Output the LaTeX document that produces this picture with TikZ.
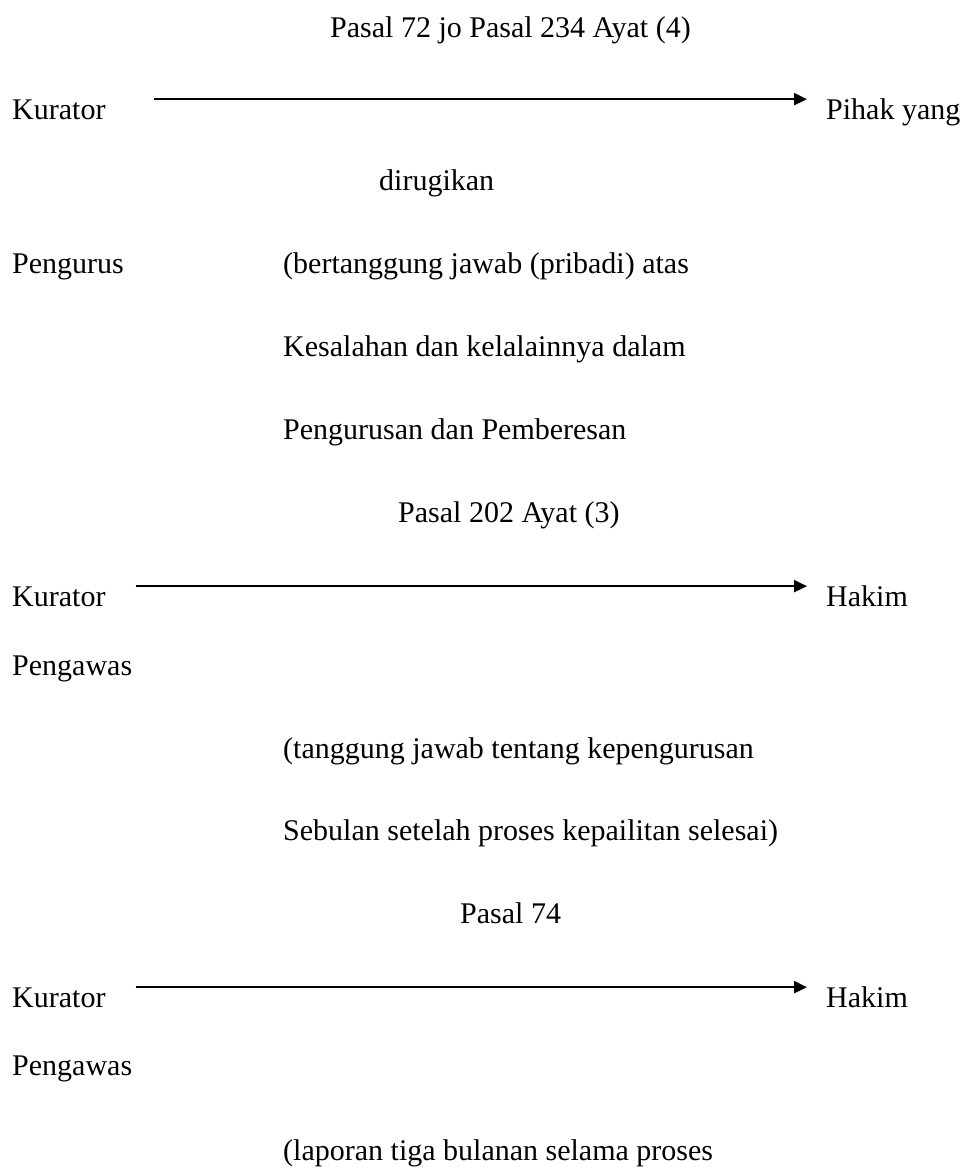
\documentclass[tikz,border=0pt]{standalone}
\usepackage{fontspec}
\setmainfont{Liberation Serif}
\usetikzlibrary{arrows.meta}
\begin{document}
\begin{tikzpicture}[x=1pt, y=-1pt]
    \tikzstyle{txt} = [inner sep=0pt, anchor=base west, font=\fontsize{30}{36}\selectfont]
    \tikzstyle{flow} = [-{Triangle[length=13pt, width=12pt]}, line width=2pt]

    \useasboundingbox (0,0) rectangle (964,1175);

    % Pasal 72 jo Pasal 234 Ayat (4)
    \node [txt] (pasal72) at (330,37) {Pasal 72 jo Pasal 234 Ayat (4)};
    \node [txt] (kur1) at (12,119) {Kurator};
    \node [txt] (pihak) at (826,119) {Pihak yang};
    \node [txt] (rugi) at (379,190) {dirugikan};
    \node [txt] (pengurus) at (12,273) {Pengurus};
    \node [txt] (tj1) at (283,273) {(bertanggung jawab (pribadi) atas};
    \node [txt] (tj2) at (283,356) {Kesalahan dan kelalainnya dalam};
    \node [txt] (tj3) at (283,439) {Pengurusan dan Pemberesan};

    % Pasal 202 Ayat (3)
    \node [txt] (pasal202) at (398,522) {Pasal 202 Ayat (3)};
    \node [txt] (kur2) at (12,606) {Kurator};
    \node [txt] (hakim1) at (826,606) {Hakim};
    \node [txt] (awas1) at (12,675) {Pengawas};
    \node [txt] (tj4) at (283,758) {(tanggung jawab tentang kepengurusan};
    \node [txt] (tj5) at (283,840) {Sebulan setelah proses kepailitan selesai)};

    % Pasal 74
    \node [txt] (pasal74) at (460,923) {Pasal 74};
    \node [txt] (kur3) at (12,1007) {Kurator};
    \node [txt] (hakim2) at (826,1007) {Hakim};
    \node [txt] (awas2) at (12,1075) {Pengawas};
    \node [txt] (lap) at (283,1160) {(laporan tiga bulanan selama proses};

    \draw [flow, yshift=3pt, shorten >=19pt] ([xshift=48pt]kur1.north east) -- (kur1.north east -| pihak.west);
    \draw [flow, yshift=8pt, shorten >=19pt] ([xshift=30pt]kur2.north east) -- (kur2.north east -| hakim1.west);
    \draw [flow, yshift=1pt, shorten >=19pt] ([xshift=30pt]kur3.north east) -- (kur3.north east -| hakim2.west);
\end{tikzpicture}
\end{document}
